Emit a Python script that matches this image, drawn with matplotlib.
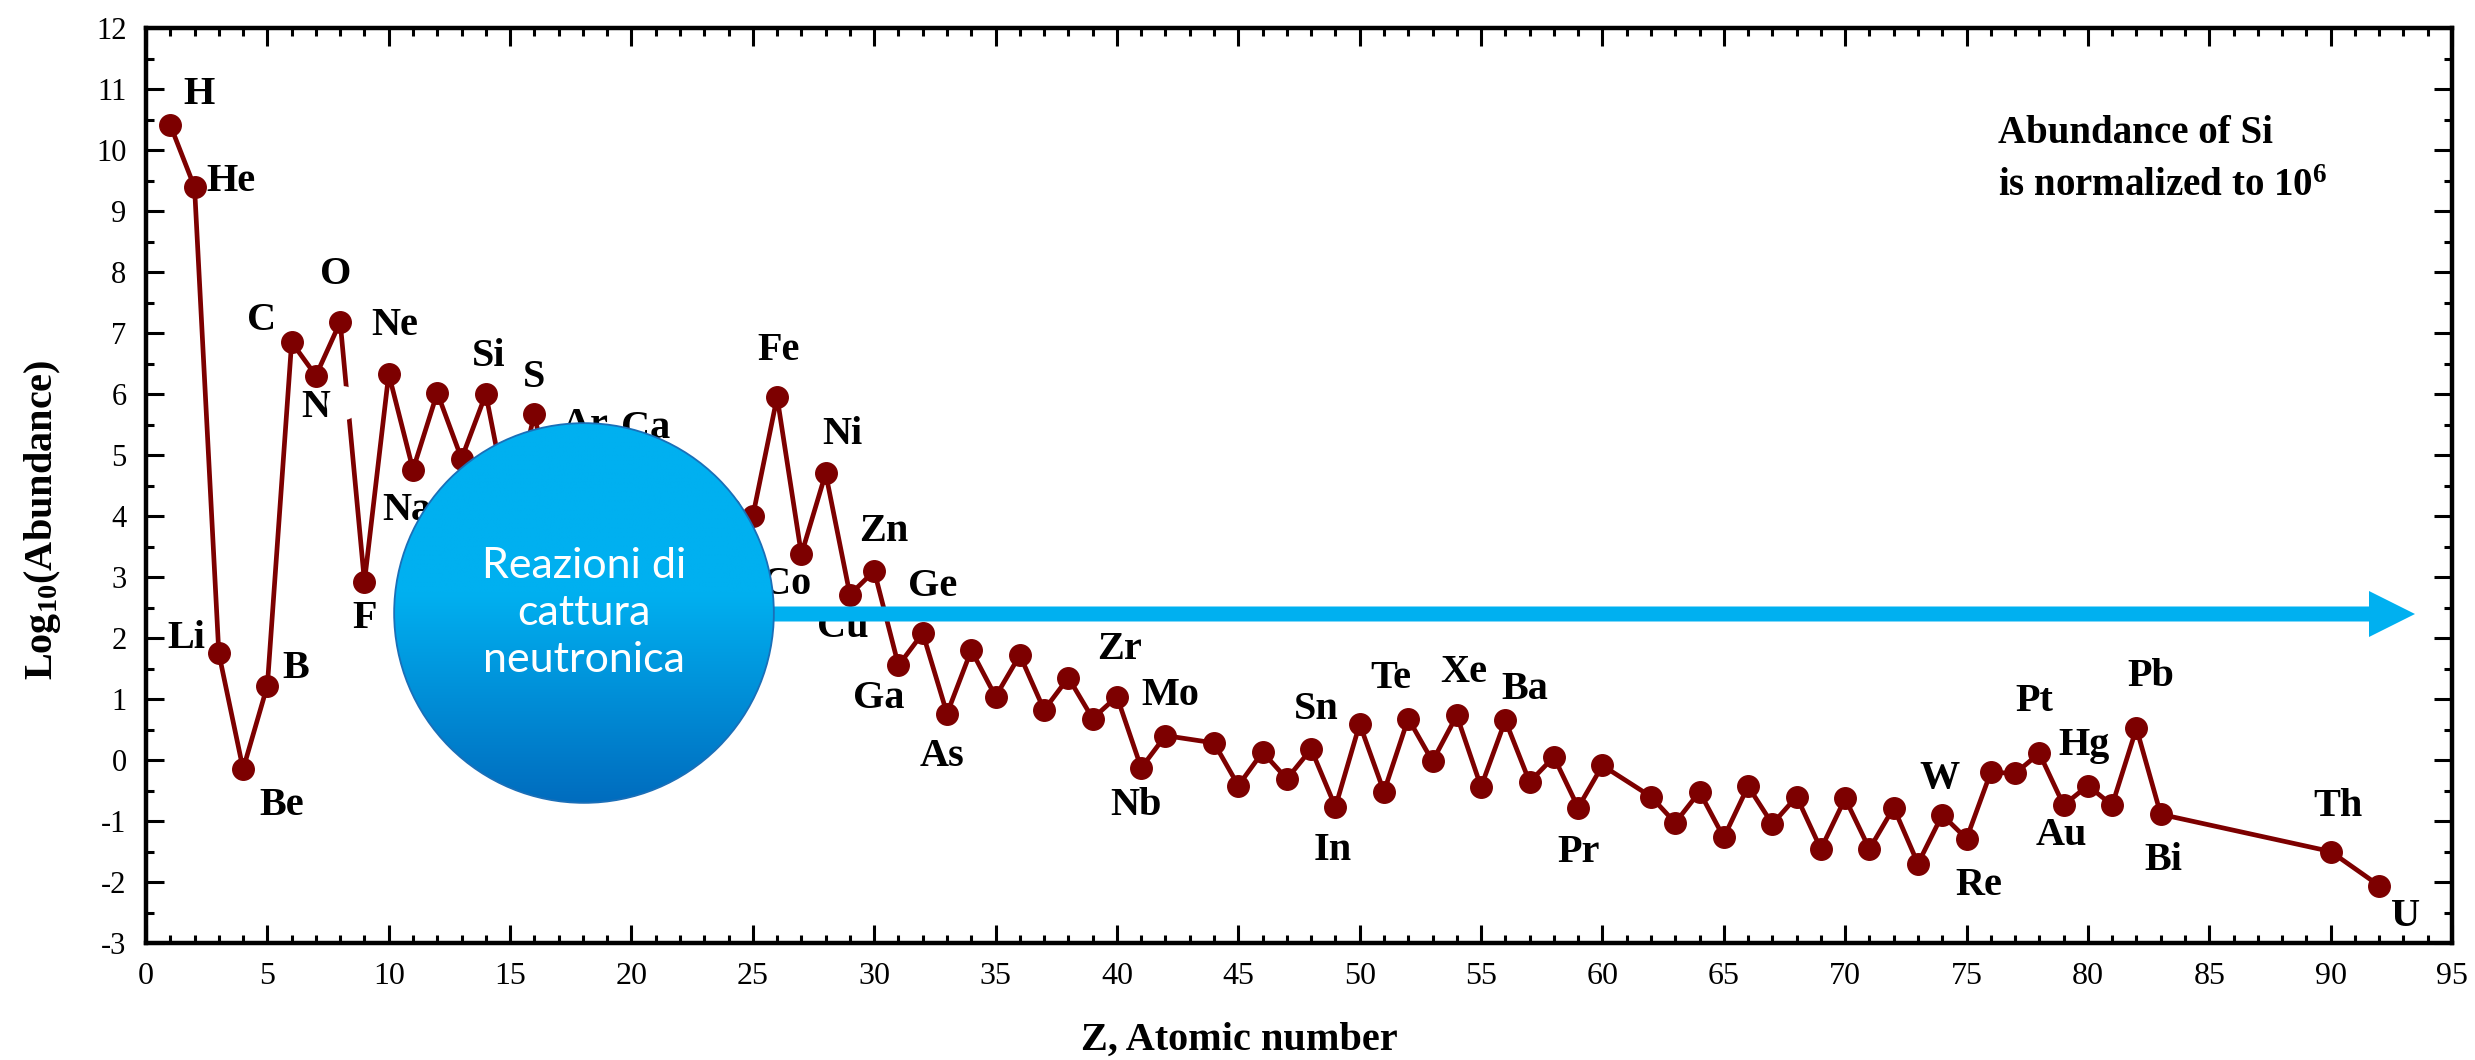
import matplotlib
matplotlib.use("Agg")
import matplotlib.pyplot as plt
import numpy as np
from matplotlib.patches import Circle, Ellipse, FancyArrow
from matplotlib.ticker import MultipleLocator

plt.rcParams['mathtext.fontset'] = 'custom'
plt.rcParams['mathtext.rm'] = 'Liberation Serif:bold'
plt.rcParams['mathtext.it'] = 'Liberation Serif:bold:italic'
plt.rcParams['mathtext.bf'] = 'Liberation Serif:bold'

# ---------------- data ----------------
atomic_number = [1, 2, 3, 4, 5, 6, 7, 8, 9, 10, 11, 12, 13, 14, 15, 16, 17, 18, 19, 20,
                 21, 22, 23, 24, 25, 26, 27, 28, 29, 30, 31, 32, 33, 34, 35, 36, 37, 38,
                 39, 40, 41, 42, 44, 45, 46, 47, 48, 49, 50, 51, 52, 53, 54, 55, 56, 57,
                 58, 59, 60, 62, 63, 64, 65, 66, 67, 68, 69, 70, 71, 72, 73, 74, 75, 76,
                 77, 78, 79, 80, 81, 82, 83, 90, 92]
log_abundance = [10.41, 9.39, 1.75, -0.15, 1.22, 6.85, 6.30, 7.18, 2.92, 6.33, 4.76, 6.02,
                 4.94, 6.00, 3.97, 5.67, 3.72, 5.00, 3.57, 4.79, 1.53, 3.38, 2.46, 4.13,
                 4.00, 5.95, 3.37, 4.70, 2.71, 3.10, 1.55, 2.08, 0.76, 1.80, 1.04, 1.72,
                 0.82, 1.35, 0.68, 1.04, -0.13, 0.40, 0.28, -0.42, 0.13, -0.31, 0.18,
                 -0.77, 0.59, -0.52, 0.68, -0.02, 0.73, -0.44, 0.65, -0.36, 0.05, -0.78,
                 -0.09, -0.60, -1.03, -0.52, -1.27, -0.43, -1.05, -0.60, -1.46, -0.63,
                 -1.46, -0.78, -1.70, -0.90, -1.29, -0.20, -0.22, 0.11, -0.74, -0.42,
                 -0.74, 0.52, -0.89, -1.50, -2.06]

label_elements = ['H', 'He', 'Li', 'Be', 'B', 'C', 'N', 'O', 'F', 'Ne', 'Na', 'Si', 'S',
                  'Ar', 'Ca', 'Fe', 'Co', 'Ni', 'Cu', 'Zn', 'Ga', 'Ge', 'As', 'Zr', 'Nb',
                  'Mo', 'Sn', 'In', 'Te', 'Xe', 'Ba', 'Pr', 'W', 'Re', 'Pt', 'Au', 'Hg',
                  'Pb', 'Bi', 'Th', 'U']
label_z = [1, 2, 3, 4, 5, 6, 7, 8, 9, 10, 11, 14, 16, 18, 20, 26, 27, 28, 29, 30, 31, 32,
           33, 40, 41, 42, 50, 49, 52, 54, 56, 59, 74, 75, 78, 79, 80, 82, 83, 90, 92]
# label offsets (dx, dy) in data units relative to the point
label_dx = [1.2, 1.5, -1.35, 1.6, 1.15, -1.24, 0.0, -0.2, 0.0, 0.26, -0.25, 0.13, 0.0,
            0.1, 0.6, 0.07, -0.6, 0.7, -0.3, 0.4, -0.8, 0.4, -0.2, 0.1, -0.2,
            0.2, -1.8, -0.1, -0.7, 0.3, 0.8, 0.0, -0.1, 0.5, -0.2, -0.1, -0.15,
            0.6, 0.1, 0.3, 1.1]
label_dy = [0.5, 0.1, 0.25, -0.6, 0.28, 0.35, -0.52, 0.78, -0.6, 0.8, -0.67, 0.62, 0.6,
            0.49, 0.65, 0.77, -0.5, 0.63, -0.53, 0.64, -0.55, 0.76, -0.7, 0.77, -0.62,
            0.65, 0.23, -0.71, 0.66, 0.71, 0.5, -0.74, 0.6, -0.77, 0.85, -0.5, 0.65,
            0.85, -0.76, 0.73, -0.5]

x_ticks = list(range(0, 96, 5))
y_ticks = list(range(-3, 13))

# ---------------- figure ----------------
W, H = 2475, 1060
fig = plt.figure(figsize=(W / 100, H / 100), dpi=100)
L, R, T, B = 146, 2452, 28, 943
ax = fig.add_axes([L / W, 1 - B / H, (R - L) / W, (B - T) / H])
ax.set_xlim(0, 95)
ax.set_ylim(-3, 12)

line_color = '#7d0000'
ax.plot(atomic_number, log_abundance, '-o', color=line_color, lw=3.4, ms=15.5,
        zorder=2)

zmap = dict(zip(atomic_number, log_abundance))
for name, z, dx, dy in zip(label_elements, label_z, label_dx, label_dy):
    ax.text(z + dx, zmap[z] + dy, name, ha='center', va='center',
            family='Liberation Serif', fontweight='bold', fontsize=29, zorder=3)

# small white blot over the N label (as in the original)
ax.add_patch(Ellipse((8.12, 5.85), 34 / 24.27, 34 / 61.0, facecolor='white',
                     edgecolor='none', zorder=3.5))

# annotation text
ax.text(76.3, 10.27, 'Abundance of Si', ha='left', va='center',
        family='Liberation Serif', fontweight='bold', fontsize=28)
ax.text(76.3, 9.40, r'is normalized to 10$^{6}$', ha='left', va='center',
        family='Liberation Serif', fontweight='bold', fontsize=28)

# ticks
ax.set_xticks(x_ticks)
ax.set_xticklabels([str(t) for t in x_ticks], family='Liberation Serif', fontsize=23)
ax.set_yticks(y_ticks)
ax.set_yticklabels([str(t) for t in y_ticks], family='Liberation Serif', fontsize=22)
ax.xaxis.set_minor_locator(MultipleLocator(1))
ax.yaxis.set_minor_locator(MultipleLocator(0.5))
ax.tick_params(which='both', direction='in', top=True, right=True, width=2.2)
ax.tick_params(which='major', length=13)
ax.tick_params(which='minor', length=6)
ax.tick_params(axis='x', which='major', pad=14)
ax.tick_params(axis='y', which='major', pad=14)
for s in ax.spines.values():
    s.set_linewidth(3.2)

fig.text(1239 / W, 1 - 1040 / H, 'Z, Atomic number', ha='center', va='center',
         family='Liberation Serif', fontweight='bold', fontsize=29)
fig.text(43 / W, 1 - 520 / H, r'Log$_{10}$(Abundance)', ha='center', va='center',
         rotation=90, family='Liberation Serif', fontweight='bold', fontsize=29)

# arrow (in main axes, above labels)
ppx = (R - L) / 95.0
ppy = (B - T) / 15.0
cx_px, cy_px, r_px = 584, 613, 191
y_arrow = 12 - (614 - T) / ppy
x_start = (cx_px - L) / ppx
x_tip = (2415 - L) / ppx
ax.add_patch(FancyArrow(x_start, y_arrow, x_tip - x_start, 0, width=15 / ppy,
                        head_width=46 / ppy, head_length=46 / ppx,
                        length_includes_head=True, color='#00b0f0', lw=0, zorder=5))

# circle with gradient in its own square axes
cax = fig.add_axes([(cx_px - r_px) / W, 1 - (cy_px + r_px) / H, 2 * r_px / W, 2 * r_px / H])
cax.set_xlim(0, 1)
cax.set_ylim(0, 1)
cax.axis('off')
cax.patch.set_alpha(0)
top_c = np.array([0x00, 0xb0, 0xf0]) / 255.0
bot_c = np.array([0x00, 0x6c, 0xbe]) / 255.0
t = np.linspace(0, 1, 256)
f = np.clip(t / 0.55, 0, 1)
grad = bot_c[None, :] + (top_c - bot_c)[None, :] * f[:, None]
grad = np.repeat(grad[:, None, :], 4, axis=1)
img = cax.imshow(grad, extent=[0, 1, 0, 1], origin='lower', aspect='auto',
                 interpolation='bilinear')
circ = Circle((0.5, 0.5), 0.497, transform=cax.transAxes, facecolor='none',
              edgecolor='#1a6fb8', lw=1.3)
cax.add_patch(circ)
img.set_clip_path(circ)
cax.text(0.5, 0.5, 'Reazioni di\ncattura\nneutronica', ha='center', va='center',
         color='white', family='Lato', fontsize=31, linespacing=1.3,
         transform=cax.transAxes)

fig.savefig('out.png', dpi=100, facecolor='white')
